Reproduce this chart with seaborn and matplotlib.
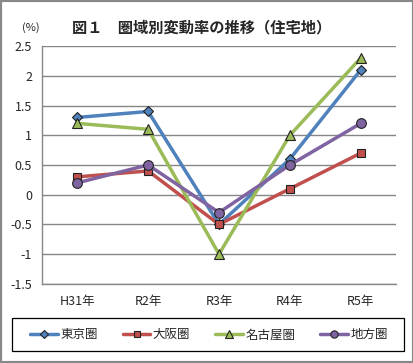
import matplotlib
matplotlib.use("Agg")
import matplotlib.pyplot as plt
import seaborn as sns
import pandas as pd
from matplotlib.patches import Rectangle

years = ["H31年", "R2年", "R3年", "R4年", "R5年"]
tokyo = [1.3, 1.4, -0.5, 0.6, 2.1]
osaka = [0.3, 0.4, -0.5, 0.1, 0.7]
nagoya = [1.2, 1.1, -1.0, 1.0, 2.3]
chiho = [0.2, 0.5, -0.3, 0.5, 1.2]

names = ["東京圏", "大阪圏", "名古屋圏", "地方圏"]
series = [tokyo, osaka, nagoya, chiho]
colors = ["#4F81BD", "#C0504D", "#9BBB59", "#8064A2"]
markers = ["D", "s", "^", "o"]
msizes = [5, 6, 7, 7]

sns.set_style("white")
plt.rcParams["font.family"] = ["Noto Sans CJK JP", "DejaVu Sans"]

fig = plt.figure(figsize=(4.14, 3.63), dpi=100)
ax = fig.add_axes([0.101, 0.218, 0.856, 0.655])

for name, vals, c, m, ms in zip(names, series, colors, markers, msizes):
    df = pd.DataFrame({"x": range(len(years)), "y": vals})
    sns.lineplot(data=df, x="x", y="y", ax=ax, color=c, linewidth=2.5,
                 marker=m, markersize=ms, markeredgecolor="#222222",
                 markeredgewidth=0.8, label=name)

ax.set_xlim(-0.5, 4.5)
ax.set_ylim(-1.5, 2.5)
ax.set_yticks([-1.5, -1, -0.5, 0, 0.5, 1, 1.5, 2, 2.5])
ax.set_yticklabels(["-1.5", "-1", "-0.5", "0", "0.5", "1", "1.5", "2", "2.5"])
ax.set_xticks(range(len(years)))
ax.set_xticklabels(years)
ax.set_xticks([-0.5, 0.5, 1.5, 2.5, 3.5, 4.5], minor=True)
ax.tick_params(axis="x", which="major", length=0, pad=8, labelsize=9)
ax.tick_params(axis="x", which="minor", length=4, color="#868686", direction="out")
ax.tick_params(axis="y", length=4, color="#868686", direction="out", labelsize=9, pad=3)
ax.grid(axis="y", color="#868686", linewidth=1)
ax.set_axisbelow(True)
for s in ["top", "right"]:
    ax.spines[s].set_visible(False)
for s in ["left", "bottom"]:
    ax.spines[s].set_color("#868686")
    ax.spines[s].set_linewidth(1)
ax.set_xlabel("")
ax.set_ylabel("")

fig.text(0.053, 0.925, "(%)", fontsize=8, ha="left", va="center")
fig.text(0.175, 0.925, "図１　圏域別変動率の推移（住宅地）", fontsize=11,
         fontweight="bold", ha="left", va="center")

ax.legend_.remove()
handles, labels = ax.get_legend_handles_labels()
fig.legend(handles, labels, loc="center", ncol=4,
           bbox_to_anchor=(0.505, 0.078), frameon=False, fontsize=9,
           handlelength=2.2, handletextpad=0.2, columnspacing=2.0,
           markerscale=0.75, borderaxespad=0)

# legend frame
fig.patches.append(Rectangle((0.029, 0.033), 0.947, 0.091, transform=fig.transFigure,
                             fill=False, edgecolor="black", linewidth=0.9))
# outer border
fig.patches.append(Rectangle((0, 0), 1, 1, transform=fig.transFigure,
                             fill=False, edgecolor="#888888", linewidth=3))

fig.savefig("out.png", dpi=100)
